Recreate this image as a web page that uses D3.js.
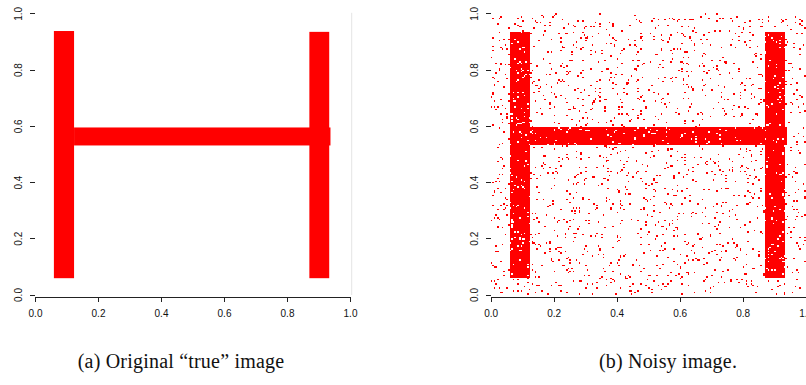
<!DOCTYPE html>
<html>
<head>
<meta charset="utf-8">
<script src="https://cdn.jsdelivr.net/npm/d3@7"></script>
<style>
  body { margin: 0; background: #fff; }
  svg { display: block; }
  .tick text { font-family: "Liberation Sans", Arial, sans-serif; font-size: 10px; fill: #111; }
  .tick line, .domain { stroke: #222; }
  .caption { font-family: "Liberation Serif", "Times New Roman", serif; font-size: 20px; letter-spacing: 0.2px; fill: #111; }
</style>
</head>
<body>
<svg id="fig" width="806" height="385"></svg>
<script>
// Axis ticks shared by both panels
const ticks = [0, 0.2, 0.4, 0.6, 0.8, 1.0];
const tickLabels = ["0.0", "0.2", "0.4", "0.6", "0.8", "1.0"];

// Strokes of the letter H, in image units on [0,1] x [0,1]
const strokeNames = ["left stem", "right stem", "crossbar"];
const strokeX0 = [0.060, 0.871, 0.124];
const strokeX1 = [0.124, 0.934, 0.938];
const strokeY0 = [0.058, 0.058, 0.530];
const strokeY1 = [0.937, 0.934, 0.594];

const captions = ["(a) Original \u201ctrue\u201d image", "(b) Noisy image."];

// Noisy panel: binary image on a square grid, each pixel flipped with a fixed probability
const gridSize = 200;
const flipRate = 0.045;
const noiseSeed = 11;

const strokes = strokeNames.map((name, i) => ({
  name, x0: strokeX0[i], x1: strokeX1[i], y0: strokeY0[i], y1: strokeY1[i]
}));

const svg = d3.select("#fig");
const RED = "#ff0000";

const plotTop = 13.3, plotBottom = 294.5, plotWidth = 315;
const panelLeft = [35, 490.7];
const axisY = 296.5;
const captionY = 368;

function makeScales(left) {
  const x = d3.scaleLinear().domain([0, 1]).range([left, left + plotWidth]);
  const y = d3.scaleLinear().domain([0, 1]).range([plotBottom, plotTop]);
  return { x, y };
}

function drawAxes(g, x, y, left) {
  const xAxis = d3.axisBottom(x)
    .tickValues(ticks)
    .tickFormat((d, i) => tickLabels[i])
    .tickSize(5)
    .tickSizeOuter(0)
    .tickPadding(8);
  g.append("g")
    .attr("transform", `translate(0,${axisY})`)
    .attr("shape-rendering", "crispEdges")
    .call(xAxis);

  const yAxis = d3.axisLeft(y)
    .tickValues(ticks)
    .tickFormat((d, i) => tickLabels[i])
    .tickSize(5)
    .tickSizeOuter(0);
  const ya = g.append("g")
    .attr("transform", `translate(${Math.round(left) - 0.5},0)`)
    .attr("shape-rendering", "crispEdges")
    .call(yAxis);
  ya.select(".domain").remove();
  ya.selectAll(".tick text")
    .attr("transform", "rotate(-90)")
    .attr("x", 0)
    .attr("y", -12.5)
    .attr("dy", 0)
    .style("text-anchor", "middle");
}

// ---- Panel (a): the clean H ----
{
  const { x, y } = makeScales(panelLeft[0]);
  const g = svg.append("g").attr("class", "panel-a");

  g.selectAll("rect.stroke")
    .data(strokes)
    .join("rect")
    .attr("class", "stroke")
    .attr("x", d => x(d.x0))
    .attr("y", d => y(d.y1))
    .attr("width", d => x(d.x1) - x(d.x0))
    .attr("height", d => y(d.y0) - y(d.y1))
    .attr("fill", RED);

  // faint right border of the raster
  g.append("line")
    .attr("x1", x(1) + 1.7).attr("x2", x(1) + 1.7)
    .attr("y1", y(1) - 0.5).attr("y2", y(0) + 0.5)
    .attr("stroke", "#e4e4e4")
    .attr("stroke-width", 1);

  drawAxes(g, x, y, panelLeft[0]);

  g.append("text")
    .attr("class", "caption")
    .attr("x", 181)
    .attr("y", captionY)
    .attr("text-anchor", "middle")
    .text(captions[0]);
}

// ---- Panel (b): the H with pixel-flip noise ----
{
  const { x, y } = makeScales(panelLeft[1]);
  const g = svg.append("g").attr("class", "panel-b");

  const rng = d3.randomLcg(noiseSeed);
  const inH = (u, v) => strokes.some(s => u >= s.x0 && u < s.x1 && v >= s.y0 && v < s.y1);

  // Build each row of the grid, then merge consecutive red pixels into runs
  const runs = [];
  for (let r = 0; r < gridSize; r++) {
    const v = (r + 0.5) / gridSize;
    let start = -1;
    for (let c = 0; c <= gridSize; c++) {
      let on = false;
      if (c < gridSize) {
        const u = (c + 0.5) / gridSize;
        const flip = rng() < flipRate;
        on = inH(u, v) !== flip;
      }
      if (on && start < 0) start = c;
      if (!on && start >= 0) {
        runs.push({ row: r, c0: start, c1: c });
        start = -1;
      }
    }
  }

  g.append("g")
    .attr("shape-rendering", "crispEdges")
    .selectAll("rect")
    .data(runs)
    .join("rect")
    .attr("x", d => x(d.c0 / gridSize))
    .attr("y", d => y((d.row + 1) / gridSize))
    .attr("width", d => x(d.c1 / gridSize) - x(d.c0 / gridSize))
    .attr("height", d => y(d.row / gridSize) - y((d.row + 1) / gridSize))
    .attr("fill", RED);

  drawAxes(g, x, y, panelLeft[1]);

  g.append("text")
    .attr("class", "caption")
    .attr("x", 668)
    .attr("y", captionY)
    .attr("text-anchor", "middle")
    .text(captions[1]);
}
</script>
</body>
</html>
